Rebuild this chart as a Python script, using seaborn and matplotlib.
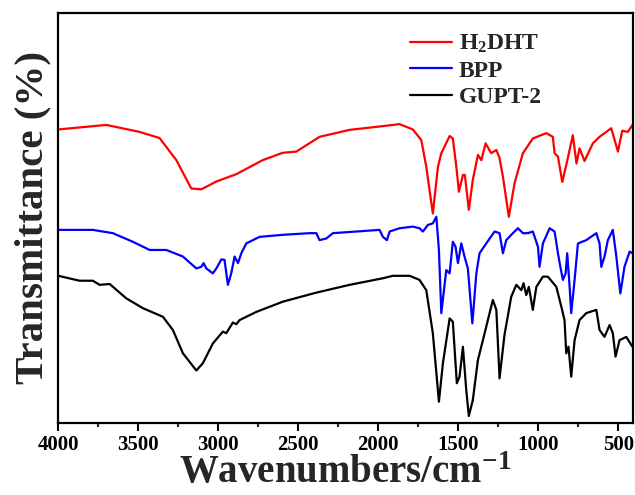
import numpy as np
import pandas as pd
import matplotlib
matplotlib.use("Agg")
import matplotlib.pyplot as plt
from matplotlib.ticker import MultipleLocator, AutoMinorLocator, NullLocator
from matplotlib.lines import Line2D
import seaborn as sns

# ---- data (transmittance in arbitrary stacked units) ----
red_wn = [4000, 3700, 3492, 3367, 3262, 3169, 3106, 3012, 2887, 2723, 2598, 2512, 2367, 2179,
          1973, 1867, 1784, 1731, 1700, 1659, 1627, 1606, 1554, 1534, 1512, 1496, 1471, 1459,
          1434, 1409, 1377, 1356, 1329, 1309, 1294, 1262, 1242, 1221, 1184, 1148, 1096, 1034,
          950, 909, 898, 877, 850, 825, 784, 761, 742, 711, 659, 617, 575, 544, 502, 475, 440, 411]
red_t = [71.6, 72.7, 71.0, 69.5, 64.1, 57.2, 57.0, 58.9, 60.7, 64.1, 65.9, 66.2, 69.8, 71.5,
         72.4, 72.9, 71.6, 69.0, 62.5, 51.1, 62.5, 65.8, 70.0, 69.4, 62.5, 56.4, 60.5, 60.5,
         52.0, 59.3, 65.4, 64.1, 68.2, 66.8, 65.8, 66.6, 64.6, 60.1, 50.3, 58.5, 65.8, 69.4,
         70.7, 69.8, 65.8, 65.0, 58.8, 62.9, 70.2, 63.3, 67.0, 63.9, 68.2, 69.8, 71.0, 71.9,
         66.2, 71.3, 71.0, 72.7]

blue_wn = [4000, 3784, 3659, 3534, 3429, 3325, 3221, 3137, 3106, 3092, 3075, 3034, 3012, 2981,
           2961, 2940, 2919, 2898, 2877, 2856, 2825, 2742, 2596, 2429, 2387, 2367, 2325, 2284,
           1992, 1971, 1946, 1929, 1867, 1784, 1742, 1721, 1690, 1659, 1637, 1621, 1606, 1575,
           1554, 1534, 1517, 1502, 1481, 1461, 1440, 1412, 1387, 1367, 1325, 1273, 1242, 1221,
           1200, 1159, 1127, 1096, 1065, 1034, 1002, 992, 971, 929, 898, 877, 862, 846, 829,
           819, 804, 794, 773, 752, 700, 637, 617, 606, 586, 565, 534, 512, 487, 461, 429, 411]
blue_t = [47.1, 47.1, 46.3, 44.2, 42.2, 42.2, 40.6, 37.7, 38.1, 39.0, 37.7, 36.5, 37.7, 39.9,
          39.8, 33.7, 36.5, 40.6, 39.0, 41.4, 43.8, 45.4, 45.9, 46.3, 46.3, 44.6, 45.0, 46.3,
          47.1, 45.4, 44.6, 46.7, 47.5, 47.9, 47.5, 46.7, 48.3, 48.7, 50.3, 42.2, 26.8, 37.3,
          36.5, 44.2, 43.0, 39.0, 43.8, 40.6, 37.7, 24.3, 36.5, 41.4, 43.8, 46.7, 46.3, 41.4,
          44.6, 46.3, 47.5, 46.3, 46.3, 46.7, 43.0, 38.1, 43.8, 47.5, 46.7, 41.4, 38.1, 34.9,
          36.5, 41.4, 33.2, 26.8, 34.9, 43.8, 44.6, 46.3, 43.8, 38.1, 40.6, 44.6, 47.1, 40.6,
          31.6, 38.1, 41.8, 41.4]

black_wn = [4000, 3867, 3784, 3742, 3679, 3575, 3471, 3346, 3284, 3221, 3137, 3096, 3034, 2971,
            2950, 2909, 2887, 2867, 2762, 2596, 2387, 2179, 1971, 1909, 1804, 1742, 1700, 1659,
            1621, 1596, 1554, 1534, 1509, 1492, 1471, 1450, 1434, 1409, 1377, 1346, 1315, 1284,
            1262, 1242, 1211, 1169, 1137, 1106, 1092, 1075, 1059, 1034, 1012, 971, 940, 887,
            856, 836, 825, 811, 794, 773, 742, 700, 637, 617, 586, 554, 534, 517, 492, 450, 411]
black_t = [35.9, 34.7, 34.7, 33.7, 33.9, 30.4, 28.0, 25.9, 22.7, 17.0, 12.8, 14.6, 19.4, 22.3,
           21.9, 24.5, 24.1, 25.1, 27.1, 29.6, 31.8, 33.7, 35.3, 35.9, 35.9, 34.9, 32.4, 21.9,
           5.2, 14.6, 25.5, 24.7, 9.7, 11.3, 18.6, 8.0, 1.7, 5.6, 15.4, 20.2, 25.1, 30.0,
           27.6, 10.9, 21.5, 30.8, 33.7, 32.4, 34.1, 31.2, 33.2, 27.6, 33.2, 35.7, 35.7, 33.2,
           28.4, 25.1, 17.0, 18.6, 11.3, 20.2, 25.1, 26.8, 27.6, 22.7, 21.0, 23.9, 21.9, 16.2,
           20.2, 21.0, 18.6]

series_names = ["H$_\\mathbf{2}$DHT", "BPP", "GUPT-2"]
series_colors = ["#ff0000", "#0000ff", "#000000"]

df = pd.concat([
    pd.DataFrame({"wn": red_wn, "T": red_t, "sample": series_names[0]}),
    pd.DataFrame({"wn": blue_wn, "T": blue_t, "sample": series_names[1]}),
    pd.DataFrame({"wn": black_wn, "T": black_t, "sample": series_names[2]}),
], ignore_index=True)

sns.set_style("ticks")
plt.rcParams["font.family"] = ["Liberation Serif", "DejaVu Serif"]
plt.rcParams["font.weight"] = "bold"
plt.rcParams["mathtext.fontset"] = "custom"
plt.rcParams["mathtext.rm"] = "Liberation Serif:bold"
plt.rcParams["mathtext.bf"] = "Liberation Serif:bold"
plt.rcParams["mathtext.it"] = "Liberation Serif:bold"

fig = plt.figure(figsize=(6.35, 4.95), dpi=100)
ax = fig.add_axes([58.3 / 635, 72 / 495, (632.5 - 58.3) / 635, 410 / 495])

palette = dict(zip(series_names, series_colors))
sns.lineplot(data=df, x="wn", y="T", hue="sample", palette=palette, ax=ax,
             linewidth=1.6, legend=False, sort=False, estimator=None)

ax.set_xlim(4000, 411)
ax.set_ylim(0, 100)
ax.xaxis.set_major_locator(MultipleLocator(500))
ax.xaxis.set_minor_locator(AutoMinorLocator(2))
ax.yaxis.set_major_locator(NullLocator())
ax.yaxis.set_minor_locator(NullLocator())
for s in ax.spines.values():
    s.set_linewidth(1.6)
    s.set_color("black")
ax.tick_params(axis="x", which="major", direction="out", length=6, width=1.5,
               labelsize=15, pad=3, colors="black")
ax.tick_params(axis="x", which="minor", direction="out", length=3, width=1.5)
for lab in ax.get_xticklabels():
    lab.set_fontweight("bold")

ax.set_xlabel("Wavenumbers/cm$^{\\mathbf{-1}}$", fontsize=28, fontweight="bold", labelpad=0)
ax.set_ylabel("Transmittance (%)", fontsize=29.5, fontweight="bold", labelpad=5)

handles = [Line2D([], [], color=c, linewidth=1.6) for c in series_colors]
leg = ax.legend(handles, series_names, loc="upper left", bbox_to_anchor=(0.613, 0.951),
                frameon=False, fontsize=17, handlelength=1.75, handletextpad=0.3,
                labelspacing=0.2, borderaxespad=0.0, borderpad=0.0)
for t in leg.get_texts():
    t.set_fontweight("bold")

fig.savefig("out.png", dpi=100)
